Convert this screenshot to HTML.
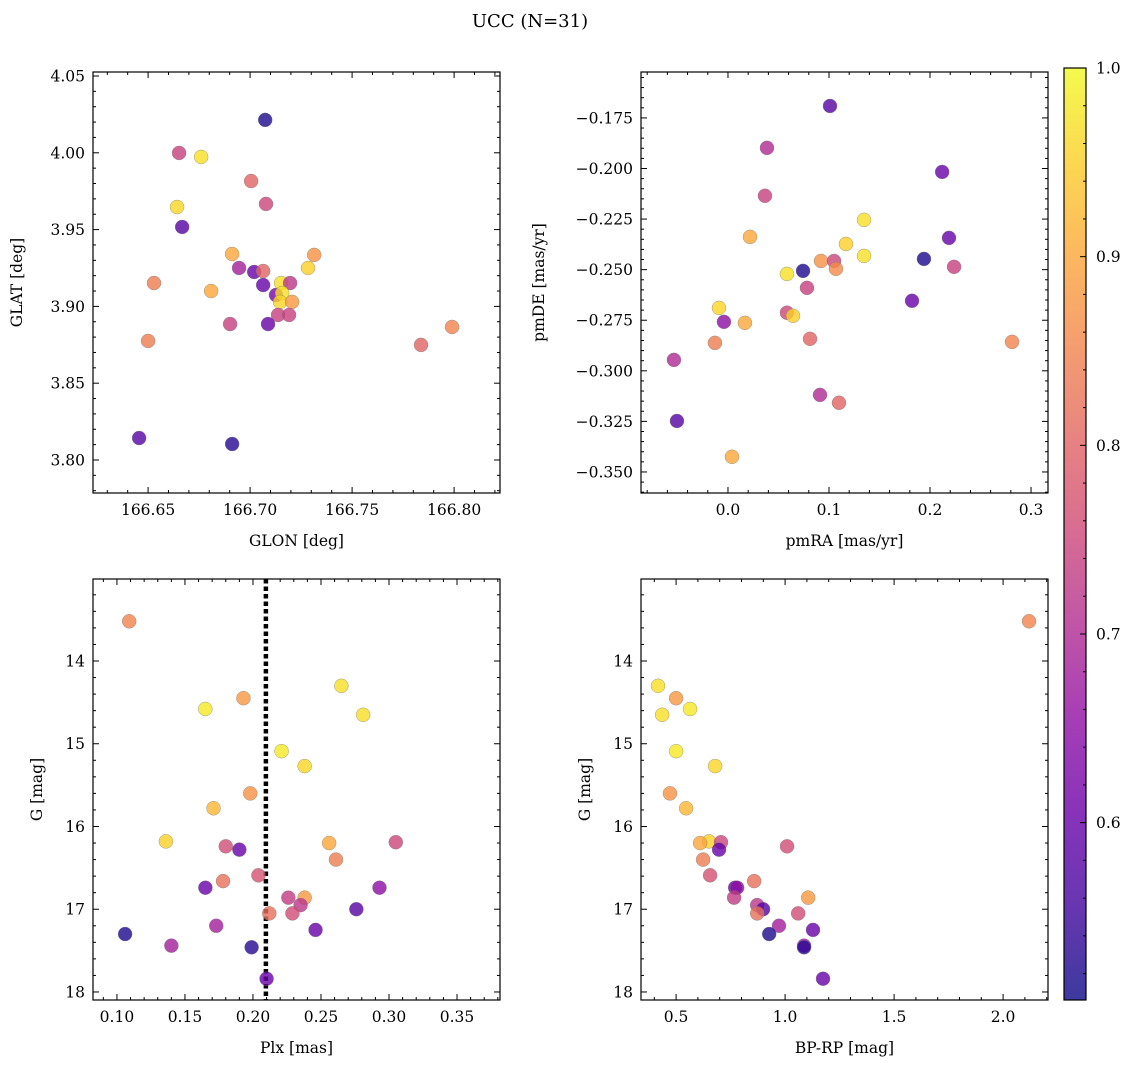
<!DOCTYPE html>
<html><head><meta charset="utf-8">
<style>
html,body{margin:0;padding:0;background:#fff;}
svg text{font-family:"DejaVu Serif","Liberation Serif",serif;fill:#000;}
</style></head>
<body>
<svg id="fig" width="1136" height="1068" viewBox="0 0 1136 1068" xmlns="http://www.w3.org/2000/svg">
<defs>
<linearGradient id="cmap" x1="0" y1="1" x2="0" y2="0">
<stop offset="0" stop-color="#2c1e8f"/>
</linearGradient>
</defs>
<text x="530" y="27" font-size="18" text-anchor="middle">UCC (N=31)</text>
</svg>
<script>
// Panel 1: GLON vs GLAT
const glon = [166.7074,166.6652,166.6760,166.7005,166.7078,166.6642,166.6667,166.6912,166.7314,166.6946,166.7020,166.7064,166.7284,166.6529,166.7064,166.7152,166.7196,166.7127,166.7157,166.7147,166.7206,166.6809,166.7137,166.7191,166.6902,166.7088,166.6500,166.7838,166.7990,166.6456,166.6912];
const glat = [4.0214,3.9999,3.9973,3.9816,3.9667,3.9647,3.9517,3.9341,3.9335,3.9250,3.9224,3.9230,3.9250,3.9152,3.9139,3.9152,3.9152,3.9074,3.9087,3.9029,3.9029,3.9100,3.8944,3.8944,3.8885,3.8885,3.8775,3.8749,3.8866,3.8143,3.8104];
const probPos = [0.52,0.74,0.97,0.80,0.75,0.96,0.58,0.90,0.87,0.68,0.60,0.80,0.95,0.84,0.60,0.97,0.72,0.62,0.97,0.96,0.88,0.90,0.74,0.74,0.74,0.60,0.84,0.80,0.85,0.58,0.53];
// Panel 2: pmRA vs pmDE
const pmra = [0.101,0.0386,0.0366,0.212,0.1347,0.0218,0.1168,0.2188,0.1347,0.194,0.2238,0.0921,0.1050,0.1069,0.0743,0.0584,0.1822,0.0782,-0.0089,0.0584,0.0644,-0.0040,0.0168,-0.0129,0.0812,0.2812,-0.0535,0.0911,0.1099,-0.0505,0.0040];
const pmde = [-0.1691,-0.1898,-0.2135,-0.2017,-0.2254,-0.2338,-0.2373,-0.2343,-0.2432,-0.2447,-0.2486,-0.2457,-0.2457,-0.2496,-0.2506,-0.2521,-0.2654,-0.2590,-0.2689,-0.2713,-0.2728,-0.2758,-0.2763,-0.2862,-0.2842,-0.2857,-0.2946,-0.3119,-0.3158,-0.3248,-0.3425];
const probPM = [0.58,0.70,0.74,0.60,0.97,0.90,0.95,0.60,0.97,0.52,0.74,0.87,0.75,0.86,0.52,0.97,0.60,0.74,0.96,0.75,0.95,0.65,0.90,0.84,0.80,0.85,0.70,0.70,0.80,0.58,0.90];
// Panels 3 & 4: photometry
const plx = [0.109,0.265,0.165,0.193,0.281,0.221,0.238,0.198,0.171,0.136,0.256,0.305,0.180,0.190,0.261,0.204,0.178,0.165,0.293,0.226,0.238,0.235,0.276,0.212,0.229,0.173,0.246,0.106,0.140,0.199,0.210];
const gmag = [13.52,14.30,14.58,14.45,14.65,15.09,15.27,15.60,15.78,16.18,16.20,16.19,16.24,16.28,16.40,16.59,16.66,16.74,16.74,16.86,16.86,16.95,17.00,17.05,17.05,17.20,17.25,17.30,17.44,17.46,17.84];
const bprp = [2.119,0.417,0.564,0.50,0.436,0.50,0.679,0.472,0.546,0.651,0.610,0.706,1.009,0.697,0.624,0.656,0.858,0.771,0.780,0.766,1.106,0.872,0.899,0.872,1.060,0.972,1.128,0.927,1.087,1.087,1.174];
const probPhot = [0.85,0.97,0.98,0.88,0.97,0.98,0.96,0.87,0.92,0.95,0.90,0.75,0.76,0.60,0.84,0.77,0.82,0.60,0.65,0.73,0.88,0.72,0.58,0.82,0.76,0.68,0.60,0.52,0.68,0.53,0.60];
const plxMedian = 0.2095;
const cbTicks = [0.6,0.7,0.8,0.9,1.0];
const vmin = 0.506, vmax = 1.0;

const NS = "http://www.w3.org/2000/svg";
const svg = document.getElementById('fig');
const stops = [[13,8,135],[65,4,157],[106,0,168],[143,13,164],[177,42,144],[204,71,120],[225,100,98],[242,132,75],[252,166,54],[252,206,37],[240,249,33]];
function plasma(t){t=Math.max(0,Math.min(1,t));const f=t*10;const i=Math.min(9,Math.floor(f));const r=f-i;const a=stops[i],b=stops[i+1];
 return `rgb(${Math.round(a[0]+(b[0]-a[0])*r)},${Math.round(a[1]+(b[1]-a[1])*r)},${Math.round(a[2]+(b[2]-a[2])*r)})`;}
function el(tag,attrs,parent){const e=document.createElementNS(NS,tag);for(const k in attrs)e.setAttribute(k,attrs[k]);(parent||svg).appendChild(e);return e;}

function panel(cfg){
 const g=el('g',{});
 
 
 const {x0,x1,y0,y1,xmin,xmax,ymin,ymax,inv}=cfg;
 const sx=v=>x0+(v-xmin)/(xmax-xmin)*(x1-x0);
 const sy=v=>inv? y0+(v-ymin)/(ymax-ymin)*(y1-y0) : y1-(v-ymin)/(ymax-ymin)*(y1-y0);
 const eps=1e-9;
 for(let v=Math.ceil(xmin/cfg.xminor-eps)*cfg.xminor; v<=xmax+eps; v+=cfg.xminor){
  const px=sx(v);const isMaj=Math.abs(v/cfg.xmajor-Math.round(v/cfg.xmajor))<1e-6;const L=isMaj?6:3;
  el('line',{x1:px,x2:px,y1:y1,y2:y1-L,stroke:'#000','stroke-width':1},g);
  el('line',{x1:px,x2:px,y1:y0,y2:y0+L,stroke:'#000','stroke-width':1},g);
 }
 for(let v=Math.ceil(ymin/cfg.yminor-eps)*cfg.yminor; v<=ymax+eps; v+=cfg.yminor){
  const py=sy(v);const isMaj=Math.abs(v/cfg.ymajor-Math.round(v/cfg.ymajor))<1e-6;const L=isMaj?6:3;
  el('line',{x1:x0,x2:x0+L,y1:py,y2:py,stroke:'#000','stroke-width':1},g);
  el('line',{x1:x1,x2:x1-L,y1:py,y2:py,stroke:'#000','stroke-width':1},g);
 }
 cfg.xticks.forEach(v=>{const t=el('text',{x:sx(v),y:y1+22,'font-size':15.5,'text-anchor':'middle'},g);t.textContent=v.toFixed(cfg.xdec).replace('-','\u2212');
  
  });
 cfg.yticks.forEach(v=>{const t=el('text',{x:x0-8,y:sy(v)+5.5,'font-size':15.5,'text-anchor':'end'},g);t.textContent=v.toFixed(cfg.ydec).replace('-','\u2212');
  
  });
 const xl=el('text',{x:(x0+x1)/2,y:y1+53,'font-size':15.5,'text-anchor':'middle'},g);xl.textContent=cfg.xlabel;
 
 
 const yl=el('text',{x:0,y:0,'font-size':15.5,'text-anchor':'middle',transform:`translate(${cfg.ylx},${(y0+y1)/2}) rotate(-90)`},g);yl.textContent=cfg.ylabel;
 
 
 if(cfg.vline!==undefined){const l=el('line',{x1:sx(cfg.vline),x2:sx(cfg.vline),y1:y0,y2:y1,stroke:'#000','stroke-width':4.5,'stroke-dasharray':'4.5 3'},g);
  
  }
 cfg.xs.forEach((xv,i)=>{const c=el('circle',{cx:sx(xv),cy:sy(cfg.ys[i]),r:7,fill:plasma((cfg.p[i]-vmin)/(vmax-vmin)),'fill-opacity':0.8,stroke:'#777','stroke-width':0.5,'stroke-opacity':0.7},g);
  
  });
 const fr=el('rect',{x:x0,y:y0,width:x1-x0,height:y1-y0,fill:'none',stroke:'#000','stroke-width':1.2},g);
 
 
}

panel({name:'glon-glat-panel',x0:93,x1:500,y0:72,y1:493,xmin:166.6230,xmax:166.8225,ymin:3.7785,ymax:4.0526,
 xminor:0.01,xmajor:0.05,yminor:0.01,ymajor:0.05,xticks:[166.65,166.70,166.75,166.80],xdec:2,yticks:[3.80,3.85,3.90,3.95,4.00,4.05],ydec:2,
 xlabel:'GLON [deg]',ylabel:'GLAT [deg]',ylx:22,xs:glon,ys:glat,p:probPos});
panel({name:'pm-panel',x0:641,x1:1048,y0:72,y1:493,xmin:-0.0861,xmax:0.3168,ymin:-0.3604,ymax:-0.1523,
 xminor:0.02,xmajor:0.1,yminor:0.005,ymajor:0.025,xticks:[0.0,0.1,0.2,0.3],xdec:1,yticks:[-0.350,-0.325,-0.300,-0.275,-0.250,-0.225,-0.200,-0.175],ydec:3,
 xlabel:'pmRA [mas/yr]',ylabel:'pmDE [mas/yr]',ylx:544,xs:pmra,ys:pmde,p:probPM});
panel({name:'plx-g-panel',x0:93,x1:500,y0:579,y1:1000,xmin:0.0824,xmax:0.3816,ymin:13.009,ymax:18.097,inv:true,
 xminor:0.01,xmajor:0.05,yminor:0.2,ymajor:1,xticks:[0.10,0.15,0.20,0.25,0.30,0.35],xdec:2,yticks:[14,15,16,17,18],ydec:0,
 xlabel:'Plx [mas]',ylabel:'G [mag]',ylx:42,xs:plx,ys:gmag,p:probPhot,vline:plxMedian});
panel({name:'cmd-panel',x0:641,x1:1048,y0:579,y1:1000,xmin:0.339,xmax:2.206,ymin:13.009,ymax:18.097,inv:true,
 xminor:0.1,xmajor:0.5,yminor:0.2,ymajor:1,xticks:[0.5,1.0,1.5,2.0],xdec:1,yticks:[14,15,16,17,18],ydec:0,
 xlabel:'BP-RP [mag]',ylabel:'G [mag]',ylx:590,xs:bprp,ys:gmag,p:probPhot});

// colorbar
const cb=el('g',{});


const grad=document.getElementById('cmap');grad.innerHTML='';
for(let k=0;k<=10;k++){el('stop',{offset:k/10,'stop-color':plasma(k/10),'stop-opacity':0.8},grad);}
const cbx0=1064,cbx1=1086,cby0=68,cby1=1000;
el('rect',{x:cbx0,y:cby0,width:cbx1-cbx0,height:cby1-cby0,fill:'url(#cmap)',stroke:'#000','stroke-width':1.2},cb);
const cy=v=>cby1-(v-vmin)/(vmax-vmin)*(cby1-cby0);
for(let v=0.52;v<=1.0001;v+=0.02){const y=cy(v);const maj=Math.abs(v*10-Math.round(v*10))<1e-6;
 el('line',{x1:cbx1,x2:cbx1-(maj?6:3),y1:y,y2:y,stroke:'#000','stroke-width':1},cb);}
cbTicks.forEach(v=>{const t=el('text',{x:cbx1+10,y:cy(v)+5.5,'font-size':15.5},cb);t.textContent=v.toFixed(1);
 
 });
</script>
</body></html>
